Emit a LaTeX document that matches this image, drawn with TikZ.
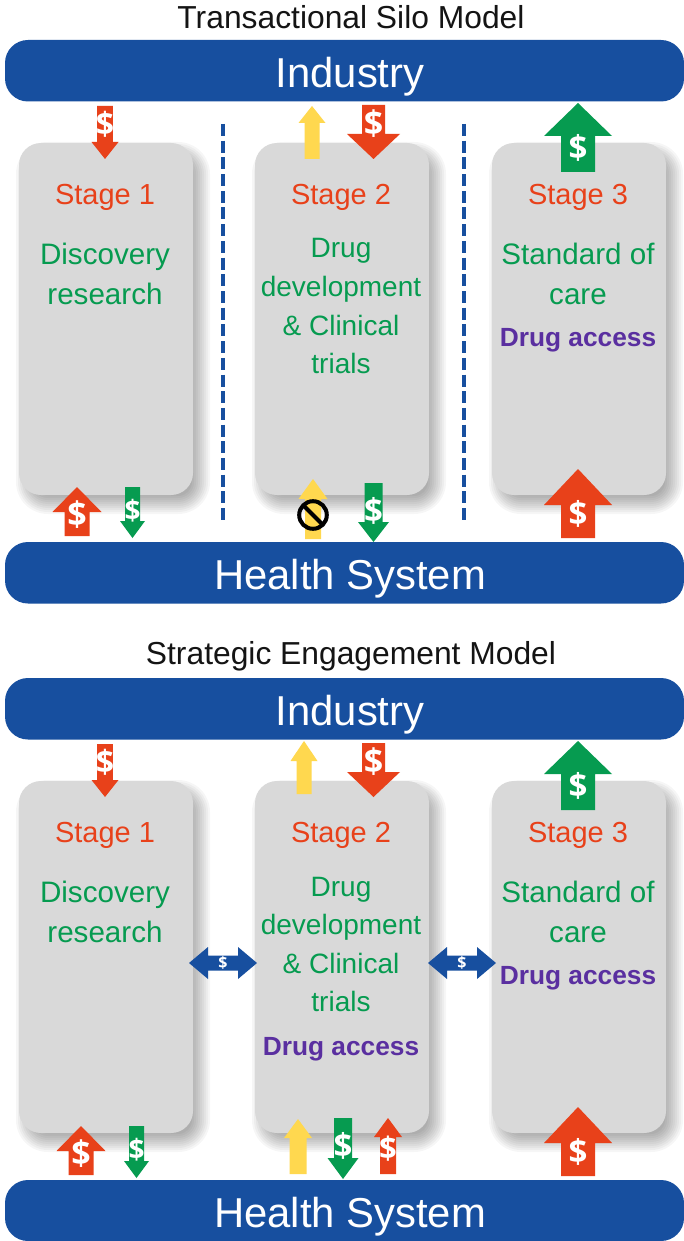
\documentclass[tikz,border=0pt]{standalone}
\usepackage{fontspec}
\setmainfont{Liberation Sans}
\newfontfamily\dollarfont{Open Sans}
\usetikzlibrary{calc}
\definecolor{barblue}{HTML}{174F9F}
\definecolor{boxgray}{HTML}{D9D9D9}
\definecolor{myred}{HTML}{E8411A}
\definecolor{mygreen}{HTML}{069B50}
\definecolor{myyellow}{HTML}{FFD84F}
\definecolor{mypurple}{HTML}{5A2FA0}
\newcommand{\fsz}[1]{\fontsize{#1}{#1}\selectfont}
\tikzset{
  x=1pt,y=-1pt,
  label base/.style={inner sep=0pt,anchor=base},
  titletext/.style={label base,text=black!92,font=\fsz{31.8}},
  bartext/.style={label base,text=white,font=\fsz{41.8}},
  stagetext/.style={label base,text=myred,font=\fsz{29}},
  greentext/.style={label base,text=mygreen,font=\fsz{29.6}},
  greentight/.style={label base,text=mygreen,font=\fsz{28}},
  accesstext/.style={label base,text=mypurple,font=\fsz{26.3}\bfseries},
  dollar/.style={text=white,font=\dollarfont\bfseries\fsz{#1},inner sep=0pt,anchor=center},
  divider/.style={draw=barblue,line width=4pt,dash pattern=on 12pt off 4.7pt},
}
% cx, tip y, head base y, end y, half shaft, half head, colour
\newcommand{\arrowshape}[7]{%
  \fill[#7] (#1,#2) -- (#1+#6,#3) -- (#1+#5,#3) -- (#1+#5,#4) -- (#1-#5,#4) -- (#1-#5,#3) -- (#1-#6,#3) -- cycle;
}
\newcommand{\panelbox}[3]{% x0,y0,name
  \foreach \k in {10,8,...,-8}{
    \pgfmathsetmacro{\rc}{max(6,22+\k)}
    \fill[black,opacity=0.034,rounded corners=\rc pt] ({#1+7-\k},{#2+9-\k}) rectangle ({#1+181+\k},{#2+361+\k});
  }
  \fill[boxgray,rounded corners=22pt] (#1,#2) rectangle ++(174,352);
  \coordinate (#3) at ({#1+87},#2);
}
\newcommand{\dblarrow}[4]{% name, x0, x1, cy
  \fill[barblue] (#2,#4) -- (#2+19,#4-16) -- (#2+19,#4-7.5) -- (#3-19,#4-7.5) -- (#3-19,#4-16) -- (#3,#4) -- (#3-19,#4+16) -- (#3-19,#4+7.5) -- (#2+19,#4+7.5) -- (#2+19,#4+16) -- cycle;
  \node[dollar=16] (#1) at ({(#2+#3)/2},#4) {\$};
}
\begin{document}
\begin{tikzpicture}
\useasboundingbox (0,0) rectangle (684,1241);
\fill[white] (0,0) rectangle (684,1241);

% ---------- upper panel
\node[titletext] (t1) at (351,28.3) {Transactional Silo Model};
\panelbox{19}{143}{a1}
\panelbox{255}{143}{a2}
\panelbox{492}{143}{a3}
\fill[barblue,rounded corners=23pt] (5,40) rectangle (684,101.5);
\fill[barblue,rounded corners=23pt] (5,542) rectangle (684,603.5);
\node[bartext] (ind1) at (350,87.3) {Industry};
\node[bartext] (hs1) at (350,589.3) {Health System};
\draw[divider] (222.5,124) -- (222.5,520);
\draw[divider] (463.5,124) -- (463.5,520);

\node[stagetext] (s11) at (105,204.4) {Stage 1};
\node[stagetext] (s12) at (341,204.4) {Stage 2};
\node[stagetext] (s13) at (578,204.4) {Stage 3};
\node[greentext] (g11a) at (105,264.3) {Discovery};
\node[greentext] (g11b) at (105,304.3) {research};
\node[greentight] (g12a) at (341,258) {Drug};
\node[greentight] (g12b) at (341,296.5) {development};
\node[greentight] (g12c) at (341,335) {\& Clinical};
\node[greentight] (g12d) at (341,373.3) {trials};
\node[greentext] (g13a) at (578,264.3) {Standard of};
\node[greentext] (g13b) at (578,304.3) {care};
\node[accesstext] (p13) at (578,346.7) {Drug access};

\arrowshape{105}{159}{142}{106}{7.8}{13.5}{myred}
\node[dollar=32] (d1) at (105,124) {\$};
\arrowshape{312}{106}{123}{159}{7.5}{13.5}{myyellow}
\arrowshape{373.5}{159}{134}{105}{11.5}{26.5}{myred}
\node[dollar=34] (d2) at (373.5,124) {\$};
\arrowshape{578}{103}{136}{172}{17}{34}{mygreen}
\node[dollar=33] (d3) at (578,148) {\$};
\arrowshape{77}{487}{512}{536}{12.5}{24.5}{myred}
\node[dollar=34] (d4) at (77,515) {\$};
\arrowshape{132.5}{538}{521}{487}{7.5}{12.5}{mygreen}
\node[dollar=28] (d5) at (132.5,511) {\$};
\arrowshape{313}{479}{499}{539}{8}{14.5}{myyellow}
\arrowshape{373.5}{542}{522}{483}{9}{15.5}{mygreen}
\node[dollar=33] (d6) at (373.5,511) {\$};
\arrowshape{578}{469}{505}{538}{17}{34}{myred}
\node[dollar=33] (d7) at (578,514) {\$};
\draw[black,line width=4pt,fill=none] (313,515) circle (13.8pt);
\draw[black,line width=4pt] (303.5,505.5) -- (322.5,524.5);

% ---------- lower panel
\node[titletext] (t2) at (351,664.3) {Strategic Engagement Model};
\panelbox{19}{781}{b1}
\panelbox{255}{781}{b2}
\panelbox{492}{781}{b3}
\fill[barblue,rounded corners=23pt] (5,678) rectangle (684,739.5);
\fill[barblue,rounded corners=23pt] (5,1180) rectangle (684,1241);
\node[bartext] (ind2) at (350,725.3) {Industry};
\node[bartext] (hs2) at (350,1227.3) {Health System};

\node[stagetext] (s21) at (105,842.4) {Stage 1};
\node[stagetext] (s22) at (341,842.4) {Stage 2};
\node[stagetext] (s23) at (578,842.4) {Stage 3};
\node[greentext] (g21a) at (105,902.3) {Discovery};
\node[greentext] (g21b) at (105,942.3) {research};
\node[greentight] (g22a) at (341,896) {Drug};
\node[greentight] (g22b) at (341,934.5) {development};
\node[greentight] (g22c) at (341,973) {\& Clinical};
\node[greentight] (g22d) at (341,1011.3) {trials};
\node[accesstext] (p22) at (341,1055.7) {Drug access};
\node[greentext] (g23a) at (578,902.3) {Standard of};
\node[greentext] (g23b) at (578,942.3) {care};
\node[accesstext] (p23) at (578,984.7) {Drug access};

\arrowshape{105}{797}{780}{744}{7.8}{13.5}{myred}
\node[dollar=32] (e1) at (105,762) {\$};
\arrowshape{304}{741}{761}{794}{7.5}{13.5}{myyellow}
\arrowshape{373.5}{797}{772}{743}{11.5}{26.5}{myred}
\node[dollar=34] (e2) at (373.5,762) {\$};
\arrowshape{578}{741}{774}{810}{17}{34}{mygreen}
\node[dollar=33] (e3) at (578,786) {\$};
\arrowshape{81}{1126}{1151}{1175}{12.5}{24.5}{myred}
\node[dollar=34] (e4) at (81,1154) {\$};
\arrowshape{136.5}{1178}{1161}{1126}{7.5}{12.5}{mygreen}
\node[dollar=28] (e5) at (136.5,1150) {\$};
\arrowshape{298}{1119}{1138}{1174}{8.5}{14}{myyellow}
\arrowshape{343}{1179}{1158}{1118}{9}{15.5}{mygreen}
\node[dollar=33] (e6) at (343,1146) {\$};
\arrowshape{388}{1118}{1137}{1174}{8}{14}{myred}
\node[dollar=31] (e7) at (388,1149) {\$};
\arrowshape{578}{1107}{1143}{1176}{17}{34}{myred}
\node[dollar=33] (e8) at (578,1152) {\$};
\dblarrow{l1}{189}{257}{963}
\dblarrow{l2}{428}{496}{963}
\end{tikzpicture}
\end{document}
